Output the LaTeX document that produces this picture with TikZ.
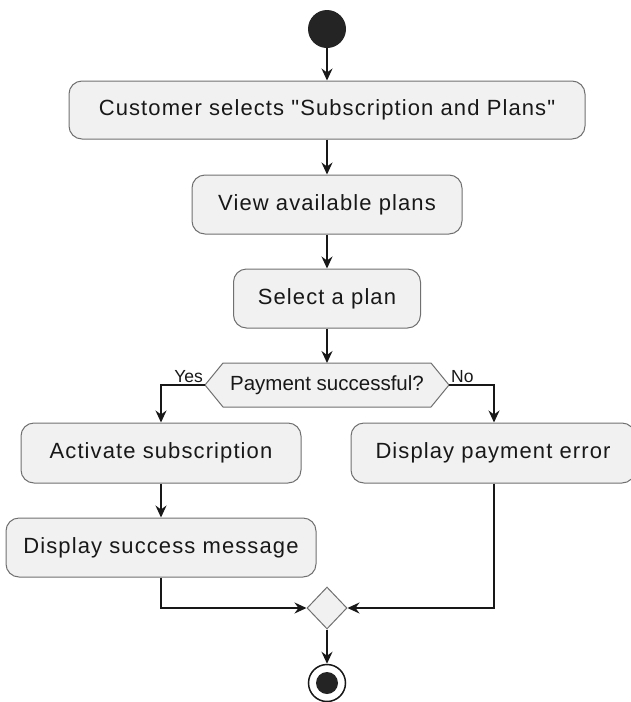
\documentclass[tikz,border=0pt]{standalone}
\usepackage{fontspec}
\setmainfont{Liberation Sans}
\newfontfamily\actfont[LetterSpace=5]{Liberation Sans}
\usetikzlibrary{arrows.meta,shapes.geometric}
\definecolor{actfill}{HTML}{F1F1F1}
\definecolor{ink}{HTML}{181818}
\definecolor{rim}{HTML}{707070}
\tikzset{
  actbox/.style={draw=rim, line width=1pt, fill=actfill, rounded corners=13pt,
    inner sep=0pt, font=\actfont\fontsize{22}{26}\selectfont, text=ink},
  flow/.style={draw=ink, line width=1.5pt,
    -{Stealth[length=12pt,width=11pt,inset=4pt]}},
  guard/.style={font=\fontsize{17.5}{20}\selectfont, text=ink, inner sep=0pt}
}
\begin{document}
\begin{tikzpicture}[x=1pt,y=-1pt]
\useasboundingbox (0,0) rectangle (631,702);

% start point
\node (start) [circle, fill=ink!95, minimum size=38pt, inner sep=0pt] at (327,29) {};

% main column of actions
\node (pick)  [actbox, minimum width=516pt, minimum height=58pt] at (327,110)
  {Customer selects "Subscription and Plans"};
\node (view)  [actbox, minimum width=270pt, minimum height=59pt] at (327,204.5)
  {View available plans};
\node (sel)   [actbox, minimum width=187pt, minimum height=59pt] at (327,298.5)
  {Select a plan};

% decision hexagon
\coordinate (decW) at (205,385);
\coordinate (decN) at (327,363);
\coordinate (decE) at (449,385);
\fill[actfill] (205,385) -- (223,363) -- (431,363) -- (449,385) -- (431,407) -- (223,407) -- cycle;
\draw[rim, line width=1pt] (205,385) -- (223,363) -- (431,363) -- (449,385) -- (431,407) -- (223,407) -- cycle;
\node (dec) [font=\fontsize{20.5}{24}\selectfont, text=ink, inner sep=0pt] at (327,385)
  {Payment successful?};

% branches
\node (act)  [actbox, minimum width=280pt, minimum height=60pt] at (161,453)
  {Activate subscription};
\node (err)  [actbox, minimum width=284pt, minimum height=60pt] at (493,453)
  {Display payment error};
\node (succ) [actbox, minimum width=310pt, minimum height=59pt] at (161,547.5)
  {Display success message};

% merge and end
\node (merge) [diamond, draw=rim, line width=1pt, fill=actfill, inner sep=0pt,
  minimum width=40pt, minimum height=42pt] at (327,608) {};
\node (stop) [circle, draw=ink, line width=1.5pt, fill=white, minimum size=37pt, inner sep=0pt] at (327,683) {};
\node (stopdot) [circle, fill=ink!95, minimum size=22pt, inner sep=0pt] at (stop) {};

% connectors
\draw[flow] (start) -- (pick);
\draw[flow] (pick) -- (view);
\draw[flow] (view) -- (sel);
\draw[flow] (sel) -- (decN);
\draw[flow] (decW) -| (act.north);
\draw[flow] (decE) -| (err.north -| 494,0);
\draw[flow] (act) -- (succ);
\draw[flow] (succ.south) |- (merge.west);
\draw[flow] (err.south -| 494,0) |- (merge.east);
\draw[flow] (merge) -- (stop);

% guard labels
\node (yes) [guard, anchor=base east] at ([xshift=-2pt,yshift=3pt]decW) {Yes};
\node (no)  [guard, anchor=base west] at ([xshift=2pt,yshift=3pt]decE) {No};
\end{tikzpicture}
\end{document}
